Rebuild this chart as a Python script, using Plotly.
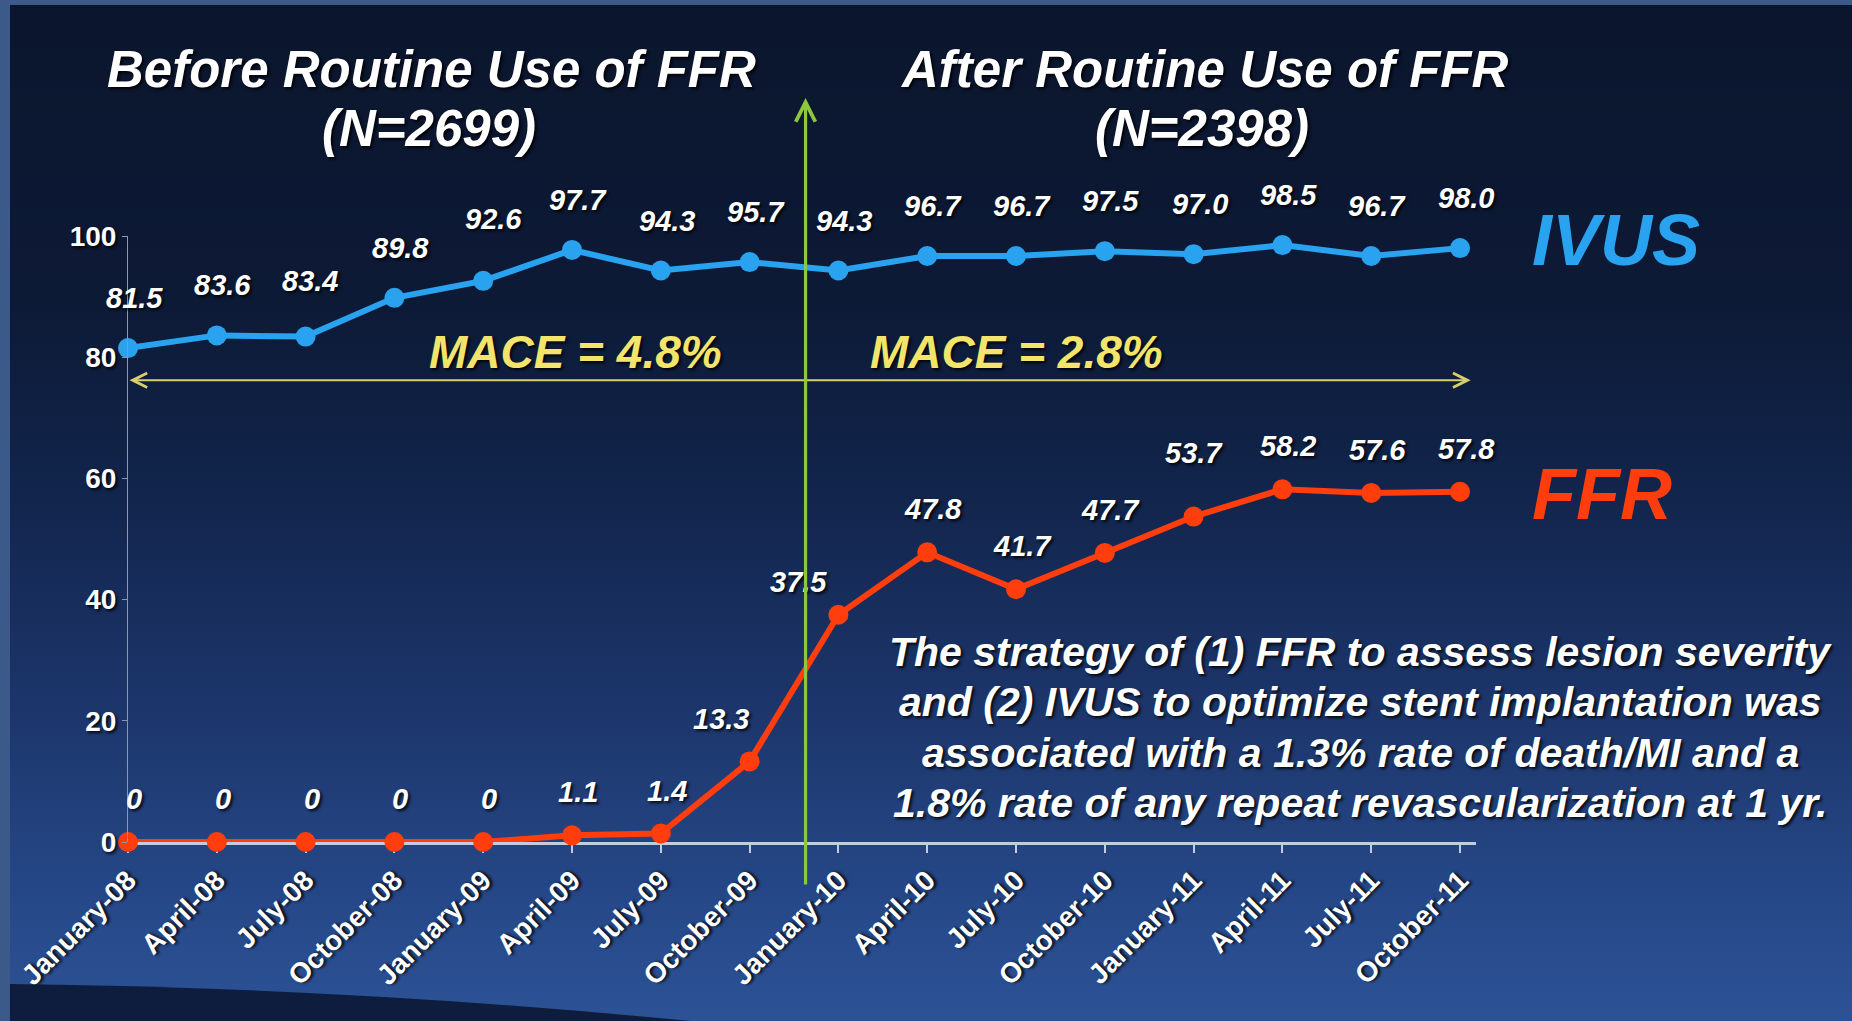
import plotly.graph_objects as go

MONTHS = [
    "January-08", "April-08", "July-08", "October-08",
    "January-09", "April-09", "July-09", "October-09",
    "January-10", "April-10", "July-10", "October-10",
    "January-11", "April-11", "July-11", "October-11",
]
IVUS = [81.5, 83.6, 83.4, 89.8, 92.6, 97.7, 94.3, 95.7,
        94.3, 96.7, 96.7, 97.5, 97.0, 98.5, 96.7, 98.0]
FFR = [0, 0, 0, 0, 0, 1.1, 1.4, 13.3,
       37.5, 47.8, 41.7, 47.7, 53.7, 58.2, 57.6, 57.8]
Y_TICKS = [0, 20, 40, 60, 80, 100]

PERIOD_TITLES = ["Before Routine Use of FFR", "After Routine Use of FFR"]
PERIOD_N = [2699, 2398]
PERIOD_MACE = ["MACE = 4.8%", "MACE = 2.8%"]
NOTE_LINES = [
    "The strategy of (1) FFR to assess lesion severity",
    "and (2) IVUS to optimize stent implantation was",
    "associated with a 1.3% rate of death/MI and a",
    "1.8% rate of any repeat revascularization at 1 yr.",
]

W, H = 1852, 1021
ML, MR, MT, MB = 128, 376, 236, 179
FONT = "Liberation Sans, Arial, sans-serif"
SHADOW = "2px 2px 3px rgba(0,0,0,0.85)"
BLUE = "#29a3f0"
RED = "#ff3d0d"
YELLOW = "#f3e46c"
GREEN = "#8dc63f"


def paper_x(px):
    return (px - ML) / (W - ML - MR)


def paper_y(py):
    return (H - MB - py) / (H - MT - MB)


def bg_color(py):
    stops = [(0, (11, 21, 45)), (300, (13, 26, 54)), (500, (18, 37, 77)),
             (700, (28, 53, 106)), (900, (38, 72, 136)), (1021, (44, 82, 150))]
    for (y0, c0), (y1, c1) in zip(stops, stops[1:]):
        if y0 <= py <= y1:
            t = (py - y0) / (y1 - y0)
            return "rgb(%d,%d,%d)" % tuple(round(a + (b - a) * t) for a, b in zip(c0, c1))
    return "rgb(44,82,150)"


fig = go.Figure()

fig.add_trace(go.Scatter(
    x=MONTHS, y=IVUS, mode="lines+markers", name="IVUS",
    line=dict(color=BLUE, width=6), marker=dict(color=BLUE, size=20),
    cliponaxis=False,
))
fig.add_trace(go.Scatter(
    x=MONTHS, y=FFR, mode="lines+markers", name="FFR",
    line=dict(color=RED, width=6), marker=dict(color=RED, size=20),
    cliponaxis=False,
))

# background gradient, frame strips, bottom swoosh
shapes = []
step = 8
for py in range(0, H, step):
    shapes.append(dict(
        type="rect", xref="paper", yref="paper", layer="below",
        x0=paper_x(0), x1=paper_x(W), y0=paper_y(py + step + 1), y1=paper_y(py),
        fillcolor=bg_color(py + step / 2), line=dict(width=0),
    ))
shapes.append(dict(
    type="path", xref="paper", yref="paper", layer="below",
    path="M %f,%f Q %f,%f %f,%f L %f,%f Z" % (
        paper_x(10), paper_y(984), paper_x(360), paper_y(988),
        paper_x(700), paper_y(1022), paper_x(10), paper_y(1022)),
    fillcolor="#0e1d3e", line=dict(width=0),
))
shapes.append(dict(type="rect", xref="paper", yref="paper", layer="below",
                   x0=paper_x(0), x1=paper_x(W), y0=paper_y(5), y1=paper_y(0),
                   fillcolor="#3b5a8a", line=dict(width=0)))
shapes.append(dict(type="rect", xref="paper", yref="paper", layer="below",
                   x0=paper_x(0), x1=paper_x(10), y0=paper_y(H), y1=paper_y(0),
                   fillcolor="#3b5a8a", line=dict(width=0)))

annotations = []


def text_font(size, color="white", italic=True, shadow=SHADOW):
    return dict(family=FONT, size=size, color=color, weight="bold",
                style="italic" if italic else "normal", shadow=shadow)


def page_text(px, py, text, font):
    return dict(x=paper_x(px), y=paper_y(py), xref="paper", yref="paper",
                text=text, showarrow=False, xanchor="center", yanchor="middle",
                font=font)


# point labels
nudges = {
    ("FFR", 7): (-29, 42), ("FFR", 8): (-40, 33), ("FFR", 12): (0, 64),
    ("IVUS", 2): (4, 56), ("IVUS", 4): (10, 62),
}
defaults = {"IVUS": (6, 50), "FFR": (6, 43)}
for name, values in (("IVUS", IVUS), ("FFR", FFR)):
    for i, (m, v) in enumerate(zip(MONTHS, values)):
        xs, ys = nudges.get((name, i), defaults[name])
        annotations.append(dict(
            x=m, y=v, xref="x", yref="y", text=f"{v:.1f}" if v else "0",
            showarrow=False, xshift=xs, yshift=ys, xanchor="center",
            yanchor="middle", font=text_font(29),
        ))

# period headings (placed on the page, above the plot area)
for cx, title, n, mace_x, mace in zip([431, 1204], PERIOD_TITLES, PERIOD_N,
                                      [5.04, 10.0], PERIOD_MACE):
    annotations.append(page_text(cx, 70, title, text_font(51)))
    annotations.append(page_text(cx - 2, 129, f"(N={n})", text_font(51)))
    annotations.append(dict(x=mace_x, y=80.9, xref="x", yref="y", text=mace,
                            showarrow=False, xanchor="center", yanchor="middle",
                            font=text_font(46, YELLOW)))

# series names
annotations.append(page_text(1616, 240, "IVUS", text_font(72, BLUE, shadow="none")))
annotations.append(page_text(1602, 494, "FFR", text_font(72, RED, shadow="none")))

# conclusion note
for k, line in enumerate(NOTE_LINES):
    annotations.append(page_text(1360, 652 + 50.3 * k, line, text_font(41)))

# MACE double arrow
annotations.append(dict(
    x=15.12, y=76.2, ax=0, ay=76.2, xref="x", yref="y", axref="x", ayref="y",
    text="", showarrow=True, arrowside="end+start", arrowhead=5, startarrowhead=5,
    arrowwidth=2.2, arrowsize=1.3, startarrowsize=1.3, arrowcolor="#d8cf6a",
    standoff=0, startstandoff=0,
))
# divider arrow between the two periods
annotations.append(dict(
    x=7.63, y=paper_y(98), ax=7.63, ay=paper_y(886),
    xref="x", yref="y domain", axref="x", ayref="y domain",
    text="", showarrow=True, arrowhead=5, arrowwidth=3.2, arrowsize=1.2,
    arrowcolor=GREEN, standoff=0,
))

fig.update_layout(
    width=W, height=H,
    margin=dict(l=ML, r=MR, t=MT, b=MB),
    paper_bgcolor="#0b152d",
    plot_bgcolor="rgba(0,0,0,0)",
    showlegend=False,
    shapes=shapes,
    annotations=annotations,
    xaxis=dict(
        type="category", categoryorder="array", categoryarray=MONTHS,
        range=[0, 15.18], tickmode="linear", tick0=0, dtick=1,
        showgrid=False, zeroline=False,
        showline=True, linecolor="#c2cbe0", linewidth=2.5,
        ticks="outside", ticklen=8, tickcolor="#c2cbe0", tickwidth=1.5,
        tickangle=-45, layer="below traces",
        tickfont=dict(family=FONT, size=28, color="white", weight="bold",
                      shadow=SHADOW),
    ),
    yaxis=dict(
        range=[0, 100], tickvals=Y_TICKS,
        showgrid=False, zeroline=False,
        showline=True, linecolor="#8d98b0", linewidth=1,
        ticks="outside", ticklen=5, tickcolor="#8d98b0",
        tickfont=dict(family=FONT, size=28, color="white", weight="bold",
                      shadow=SHADOW),
    ),
)

fig.write_html("out.html", config={"displayModeBar": False},
               post_script="document.body.style.margin = '0';")
